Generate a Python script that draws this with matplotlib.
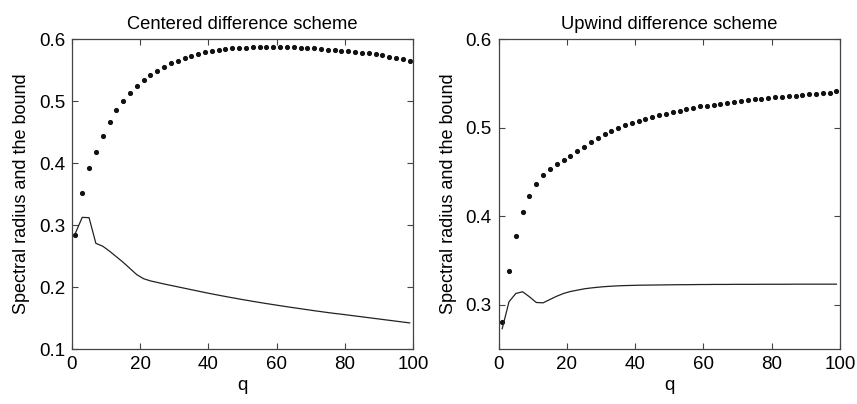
import numpy as np
import matplotlib
matplotlib.use("Agg")
import matplotlib.pyplot as plt

plt.rcParams['font.family'] = ['Liberation Sans', 'DejaVu Sans']

q = list(range(1, 100, 2))

centered_bound = [0.284, 0.352, 0.392, 0.4175, 0.4444, 0.4665, 0.4854, 0.5004, 0.5128, 0.524,
                  0.534, 0.542, 0.549, 0.555, 0.561, 0.5656, 0.570, 0.573, 0.5763, 0.579,
                  0.5806, 0.5828, 0.5839, 0.585, 0.586, 0.5865, 0.5868, 0.587, 0.5873, 0.5876,
                  0.5876, 0.5872, 0.5866, 0.586, 0.5855, 0.585, 0.584, 0.5832, 0.5822, 0.5815,
                  0.5806, 0.5795, 0.5785, 0.5774, 0.5758, 0.5742, 0.572, 0.5704, 0.5677, 0.564]

centered_radius = [0.287, 0.3125, 0.312, 0.2706, 0.266, 0.258, 0.249, 0.240, 0.230, 0.220,
                   0.2135, 0.210, 0.2075, 0.205, 0.2027, 0.2004, 0.1981, 0.1958, 0.1935, 0.1912,
                   0.189, 0.1869, 0.1848, 0.1828, 0.1808, 0.1789, 0.177, 0.1752, 0.1734, 0.1717,
                   0.17, 0.1683, 0.1667, 0.1651, 0.1635, 0.1619, 0.1604, 0.1589, 0.1575, 0.1562,
                   0.1548, 0.1534, 0.152, 0.1506, 0.1492, 0.1478, 0.1464, 0.145, 0.1436, 0.1422]

upwind_bound = [0.280, 0.338, 0.378, 0.4047, 0.4232, 0.4364, 0.4466, 0.4537, 0.4594, 0.4639,
                0.4684, 0.4737, 0.4786, 0.4839, 0.4888, 0.4929, 0.4967, 0.4997, 0.5027, 0.5054,
                0.5076, 0.5099, 0.5122, 0.514, 0.516, 0.5175, 0.519, 0.521, 0.5224, 0.524,
                0.525, 0.526, 0.527, 0.528, 0.5295, 0.5306, 0.5314, 0.532, 0.533, 0.5337,
                0.5344, 0.535, 0.536, 0.5363, 0.537, 0.5378, 0.538, 0.539, 0.5397, 0.541]

upwind_radius = [0.273, 0.3034, 0.3128, 0.3147, 0.309, 0.3026, 0.3022, 0.306, 0.3097, 0.3128,
                 0.315, 0.3165, 0.318, 0.319, 0.3198, 0.3205, 0.321, 0.3214, 0.3217, 0.3219,
                 0.3221, 0.3222, 0.3223, 0.3224, 0.3225, 0.3226, 0.3227, 0.3227, 0.3228, 0.3229,
                 0.3229, 0.323, 0.323, 0.323, 0.3231, 0.3231, 0.3231, 0.3231, 0.3232, 0.3232,
                 0.3232, 0.3232, 0.3232, 0.3233, 0.3233, 0.3233, 0.3233, 0.3233, 0.3233, 0.3233]

titles = ["Centered difference scheme", "Upwind difference scheme"]
ylims = [(0.1, 0.6), (0.25, 0.6)]
yticks = [[0.1, 0.2, 0.3, 0.4, 0.5, 0.6], [0.3, 0.4, 0.5, 0.6]]
xticks = [0, 20, 40, 60, 80, 100]

fig = plt.figure(figsize=(8.57, 4.04), dpi=100)
axes = [fig.add_axes([0.084, 0.136, 0.398, 0.767]),
        fig.add_axes([0.582, 0.136, 0.398, 0.767])]

data = [(centered_bound, centered_radius), (upwind_bound, upwind_radius)]
for ax, (bnd, rad), t, yl, yt in zip(axes, data, titles, ylims, yticks):
    ax.plot(q, bnd, linestyle='none', marker='o', markersize=2.7, color='#111111')
    ax.plot(q, rad, '-', color='#222222', linewidth=0.9)
    ax.set_xlim(0, 100)
    ax.set_ylim(*yl)
    ax.set_xticks(xticks)
    ax.set_yticks(yt)
    ax.set_yticklabels([f"{v:.1f}" for v in yt])
    ax.tick_params(direction='in', top=True, right=True, labelsize=13.5, length=4,
                   color='#444444', pad=5)
    for s in ax.spines.values():
        s.set_color('#444444')
        s.set_linewidth(0.9)
    ax.set_title(t, fontsize=13.2, pad=7)
    ax.set_xlabel("q", fontsize=13.5, labelpad=3)
    ax.set_ylabel("Spectral radius and the bound", fontsize=13, labelpad=6)

fig.savefig("out.png", dpi=100)
